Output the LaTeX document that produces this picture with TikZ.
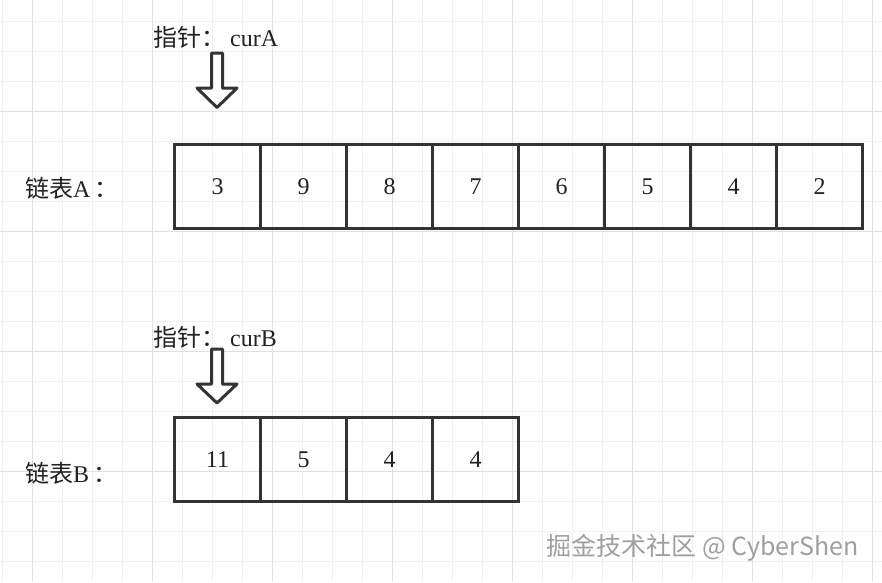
\documentclass[tikz,border=0pt]{standalone}
\usepackage{fontspec}
\setmainfont{Liberation Serif}
\newfontfamily\cjk{Noto Sans CJK SC}
\definecolor{gridminor}{HTML}{F0F0F0}
\definecolor{gridmajor}{HTML}{E0E0E0}
\definecolor{boxline}{HTML}{333333}
\definecolor{txt}{HTML}{222222}
\begin{document}
\begin{tikzpicture}[x=1pt,y=-1pt,
  cell/.style={draw=boxline,line width=3.4pt,minimum width=86pt,minimum height=84pt,inner sep=0pt,
    font=\fontsize{24}{24}\selectfont,text=txt},
  lbl/.style={anchor=west,inner sep=0pt,font=\fontsize{24}{24}\selectfont,text=txt},
  minorline/.style={draw=gridminor,line width=1.2pt},
  majorline/.style={draw=gridmajor,line width=1.4pt},
  ptr/.style={draw=boxline,line width=3pt,fill=white,line join=round}]
\fill[white] (0,0) rectangle (882,582);
\useasboundingbox (0,0) rectangle (882,582);
% grid
\foreach \i in {0,...,29} \draw[minorline] (2.7+30*\i,0) -- (2.7+30*\i,582);
\foreach \j in {0,...,18} \draw[minorline] (0,21.7+30*\j) -- (882,21.7+30*\j);
\foreach \i in {0,...,7} \draw[majorline] (32.7+120*\i,0) -- (32.7+120*\i,582);
\foreach \j in {0,...,3} \draw[majorline] (0,111.7+120*\j) -- (882,111.7+120*\j);
% list A
\foreach \v [count=\k] in {3,9,8,7,6,5,4,2}
  \node[cell] (a\k) at (174.5+86*\k-43,186.5) {\v};
% list B
\foreach \v [count=\k] in {11,5,4,4}
  \node[cell] (b\k) at (174.5+86*\k-43,459.5) {\v};
% labels
\node[lbl] (labA) at (25,188) {{\cjk 链表}A\kern4pt{\cjk ：}};
\node[lbl] (labB) at (25,473) {{\cjk 链表}B\kern4pt{\cjk ：}};
\node[lbl] (pA) at (153,37) {{\cjk 指针：}\kern5pt curA};
\node[lbl] (pB) at (153,337) {{\cjk 指针：}\kern5pt curB};
% pointer arrows
\draw[ptr] (211.5,53) -- (222.5,53) -- (222.5,88) -- (237,88) -- (217,107.5) -- (197,88) -- (211.5,88) -- cycle;
\draw[ptr] (211.5,349) -- (222.5,349) -- (222.5,384) -- (237,384) -- (217,403) -- (197,384) -- (211.5,384) -- cycle;
% watermark
\node[anchor=west,inner sep=0pt,font=\cjk\fontsize{25}{25}\selectfont,text=gray!75] (wm) at (546.7,548) {掘金技术社区 @ CyberShen};
\end{tikzpicture}
\end{document}
